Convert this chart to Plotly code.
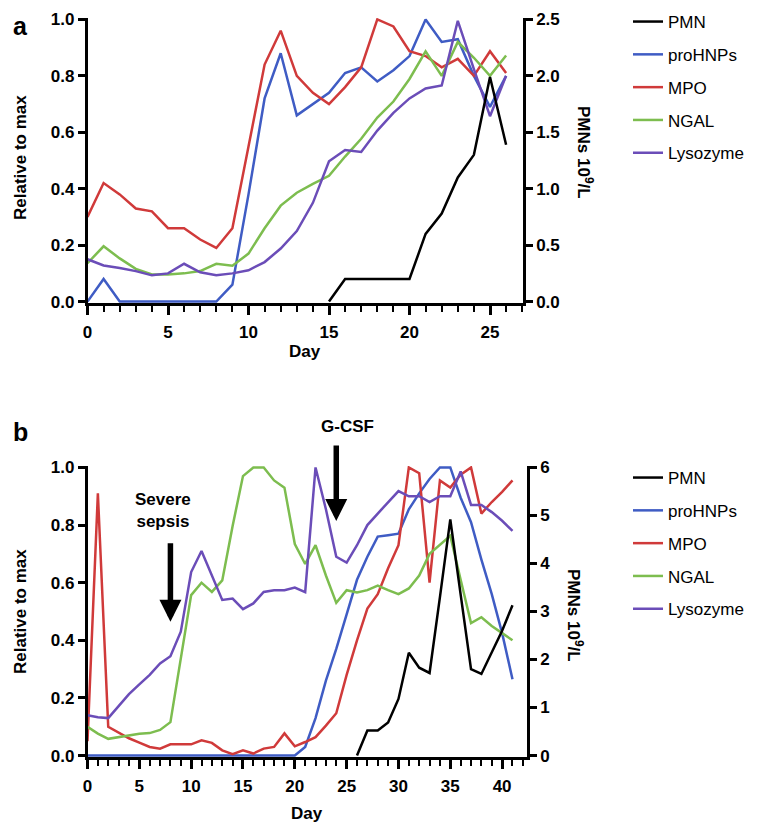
import plotly.graph_objects as go

# ---- panel a data (days 0-26) ----
days_a = list(range(27))
pmn_days_a = list(range(15, 27))
pmn_a = [0, 0.2, 0.2, 0.2, 0.2, 0.2, 0.6, 0.78, 1.10, 1.30, 1.99, 1.39]
prohnps_a = [0, 0.08, 0, 0, 0, 0, 0, 0, 0, 0.06, 0.38, 0.72, 0.88, 0.66, 0.70, 0.74,
             0.81, 0.83, 0.78, 0.82, 0.87, 1.0, 0.92, 0.93, 0.80, 0.69, 0.80]
mpo_a = [0.30, 0.42, 0.38, 0.33, 0.32, 0.26, 0.26, 0.22, 0.19, 0.26, 0.55, 0.84, 0.96, 0.80,
         0.74, 0.70, 0.76, 0.83, 1.00, 0.975, 0.887, 0.87, 0.83, 0.86, 0.80, 0.887, 0.81]
ngal_a = [0.136, 0.196, 0.153, 0.116, 0.096, 0.096, 0.10, 0.108, 0.134, 0.127, 0.17, 0.26,
          0.34, 0.386, 0.417, 0.446, 0.514, 0.577, 0.652, 0.709, 0.789, 0.887, 0.80, 0.92,
          0.864, 0.80, 0.872]
lyso_a = [0.15, 0.128, 0.119, 0.108, 0.093, 0.10, 0.134, 0.104, 0.093, 0.10, 0.111, 0.14,
          0.188, 0.25, 0.35, 0.497, 0.537, 0.53, 0.606, 0.669, 0.72, 0.755, 0.766, 0.995,
          0.824, 0.657, 0.80]

# ---- panel b data (days 0-41) ----
days_b = list(range(42))
pmn_days_b = list(range(26, 42))
pmn_b = [0, 0.52, 0.52, 0.69, 1.18, 2.14, 1.83, 1.72, 3.3, 4.92, 3.35, 1.8, 1.7, 2.15, 2.6, 3.13]
prohnps_b = [0] * 21 + [0.03, 0.13, 0.26, 0.37, 0.49, 0.61, 0.69, 0.76, 0.765, 0.77, 0.855,
                        0.91, 0.96, 1.0, 1.0, 0.895, 0.81, 0.68, 0.56, 0.425, 0.265]
mpo_b = [0.05, 0.91, 0.10, 0.08, 0.06, 0.045, 0.03, 0.024, 0.039, 0.039, 0.039, 0.053, 0.044,
         0.018, 0.005, 0.018, 0.007, 0.024, 0.03, 0.077, 0.032, 0.047, 0.064, 0.104, 0.147,
         0.28, 0.40, 0.51, 0.56, 0.65, 0.73, 1.0, 0.98, 0.60, 0.955, 0.93, 0.975, 1.0, 0.84,
         0.88, 0.915, 0.955]
ngal_b = [0.10, 0.076, 0.058, 0.064, 0.07, 0.076, 0.078, 0.089, 0.116, 0.33, 0.557, 0.60,
          0.568, 0.608, 0.797, 0.97, 1.0, 1.0, 0.955, 0.93, 0.734, 0.665, 0.73, 0.625, 0.53,
          0.574, 0.566, 0.574, 0.59, 0.574, 0.56, 0.58, 0.625, 0.70, 0.73, 0.763, 0.61, 0.46,
          0.48, 0.45, 0.425, 0.40]
lyso_b = [0.14, 0.133, 0.13, 0.173, 0.213, 0.247, 0.28, 0.32, 0.345, 0.43, 0.637, 0.71, 0.625,
          0.54, 0.545, 0.508, 0.528, 0.568, 0.574, 0.574, 0.583, 0.567, 1.0, 0.855, 0.69, 0.67,
          0.73, 0.80, 0.84, 0.88, 0.918, 0.90, 0.90, 0.88, 0.90, 0.90, 0.986, 0.87, 0.87, 0.845,
          0.815, 0.78]

colors = {'PMN': '#000000', 'proHNPs': '#3f5cc4', 'MPO': '#d03a3a',
          'NGAL': '#7dbd4f', 'Lysozyme': '#6b4db8'}

FONT = 'Liberation Sans'
W, H = 768, 826
OFF = 8  # the page body adds an 8px margin round the figure


def px(x):
    return (x - OFF) / W


def py(y):
    return 1 - (y - OFF) / H


fig = go.Figure()


def add_panel(tag, days, pmn_days, pmn, series, xref, yref, y2ref, legend):
    fig.add_trace(go.Scatter(x=pmn_days, y=pmn, mode='lines', name='PMN',
                             line=dict(color=colors['PMN'], width=2.5),
                             xaxis=xref, yaxis=y2ref, legend=legend,
                             legendgroup=tag + 'PMN'))
    for name, vals in series:
        fig.add_trace(go.Scatter(x=days, y=vals, mode='lines', name=name,
                                 line=dict(color=colors[name], width=2.5),
                                 xaxis=xref, yaxis=yref, legend=legend,
                                 legendgroup=tag + name))


add_panel('a', days_a, pmn_days_a, pmn_a,
          [('proHNPs', prohnps_a), ('MPO', mpo_a), ('NGAL', ngal_a), ('Lysozyme', lyso_a)],
          'x', 'y', 'y2', 'legend')
add_panel('b', days_b, pmn_days_b, pmn_b,
          [('proHNPs', prohnps_b), ('MPO', mpo_b), ('NGAL', ngal_b), ('Lysozyme', lyso_b)],
          'x2', 'y3', 'y4', 'legend2')

tickfont = dict(family=FONT, size=17, color='black', weight='bold')
titlefont = dict(family=FONT, size=17, color='black', weight='bold')
common = dict(showline=True, linecolor='black', linewidth=2.5, ticks='outside', ticklen=7,
              tickwidth=2.5, tickcolor='black', showgrid=False, zeroline=False,
              tickfont=tickfont, automargin=False)
xcommon = dict(common, ticklen=9, ticklabelstandoff=3)
minor = dict(dtick=1, ticks='outside', ticklen=6, tickwidth=2, tickcolor='black', showgrid=False)

legfont = dict(family=FONT, size=17, color='black')

fig.update_layout(
    width=W, height=H,
    paper_bgcolor='white', plot_bgcolor='white',
    margin=dict(l=0, r=0, t=0, b=0, autoexpand=False),
    showlegend=True,
    xaxis=dict(domain=[px(87.5), px(523)], anchor='y', range=[0, 27.05], tick0=0, dtick=5,
               minor=minor, **xcommon),
    yaxis=dict(domain=[py(303), py(18)], anchor='x', range=[-0.005, 1.005], tick0=0,
               dtick=0.2, tickformat='.1f', **common),
    yaxis2=dict(overlaying='y', anchor='x', side='right', range=[-0.0125, 2.5125], tick0=0,
                dtick=0.5, tickformat='.1f', **common),
    xaxis2=dict(domain=[px(87.5), px(527)], anchor='y3', range=[0, 42.4], tick0=0, dtick=5,
                minor=minor, **xcommon),
    yaxis3=dict(domain=[py(757), py(466)], anchor='x2', range=[-0.005, 1.005], tick0=0,
                dtick=0.2, tickformat='.1f', **common),
    yaxis4=dict(overlaying='y3', anchor='x2', side='right', range=[-0.03, 6.03], tick0=0,
                dtick=1, **common),
    legend=dict(x=px(628), y=py(4), xanchor='left', yanchor='top', tracegroupgap=7.7,
                font=legfont, bgcolor='rgba(0,0,0,0)'),
    legend2=dict(x=px(628), y=py(460), xanchor='left', yanchor='top', tracegroupgap=7.7,
                 font=legfont, bgcolor='rgba(0,0,0,0)'),
)

annos = [
    dict(text='a', x=3 / W, y=py(26), xanchor='left', yanchor='middle',
         font=dict(family=FONT, size=25, color='black', weight='bold')),
    dict(text='b', x=3 / W, y=py(432), xanchor='left', yanchor='middle',
         font=dict(family=FONT, size=25, color='black', weight='bold')),
    # axis titles
    dict(text='Relative to max', x=px(20), y=py(158), textangle=-90,
         xanchor='center', yanchor='middle', font=titlefont),
    dict(text='Relative to max', x=px(20), y=py(612), textangle=-90,
         xanchor='center', yanchor='middle', font=titlefont),
    dict(text='Day', x=px(305), y=py(351), xanchor='center', yanchor='middle',
         font=titlefont),
    dict(text='Day', x=px(307), y=py(813), xanchor='center', yanchor='middle',
         font=titlefont),
    dict(text='PMNs 10<sup>9</sup>/L', x=px(585), y=py(152), textangle=90,
         xanchor='center', yanchor='middle', font=titlefont),
    dict(text='PMNs 10<sup>9</sup>/L', x=px(575), y=py(615), textangle=90,
         xanchor='center', yanchor='middle', font=titlefont),
    # event labels
    dict(text='Severe<br>sepsis', x=px(163), y=py(510), xanchor='center',
         yanchor='middle', font=titlefont),
    dict(text='G-CSF', x=px(347), y=py(427), xanchor='center', yanchor='middle',
         font=titlefont),
]
for a in annos:
    fig.add_annotation(xref='paper', yref='paper', showarrow=False, **a)

# arrows marking the events in panel b
fig.add_annotation(xref='x2', yref='y3', x=8, y=0.464, text='', showarrow=True,
                   ax=0, ay=-80, arrowhead=2, arrowwidth=5.5, arrowsize=0.8,
                   arrowcolor='black', standoff=0)
fig.add_annotation(xref='x2', yref='y3', x=24, y=0.814, text='', showarrow=True,
                   ax=0, ay=-77, arrowhead=2, arrowwidth=5.5, arrowsize=0.8,
                   arrowcolor='black', standoff=0)

fig.write_html("out.html")
